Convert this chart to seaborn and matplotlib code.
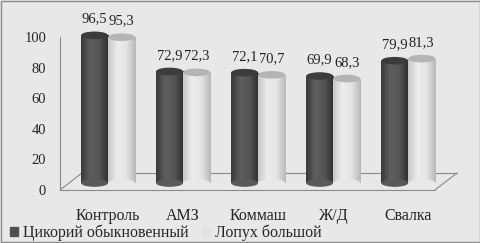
import numpy as np
import pandas as pd
import matplotlib
matplotlib.use("Agg")
import matplotlib.pyplot as plt
import seaborn as sns
from matplotlib.patches import Ellipse
from matplotlib.colors import LinearSegmentedColormap
from matplotlib.transforms import ScaledTranslation

sites = ["Контроль", "АМЗ", "Коммаш", "Ж/Д", "Свалка"]
chicory = [96.5, 72.9, 72.1, 69.9, 79.9]
burdock = [95.3, 72.3, 70.7, 68.3, 81.3]
series = ["Цикорий обыкновенный", "Лопух большой"]

df = pd.DataFrame({
    "site": sites * 2,
    "value": chicory + burdock,
    "species": [series[0]] * len(sites) + [series[1]] * len(sites),
})

sns.set_style("white")
plt.rcParams["font.family"] = ["Liberation Serif", "DejaVu Serif"]

bg = "#e8e8e8"
fig = plt.figure(figsize=(4.81, 2.43), dpi=100, facecolor=bg)
# bars stand on the middle of the "3D" floor, 7px above the front edge
ax = fig.add_axes([60 / 481, 60 / 243, 385 / 481, 153 / 243])
ax.set_facecolor("none")

colors = {series[0]: "#505050", series[1]: "#e2e2e2"}
sns.barplot(data=df, x="site", y="value", hue="species", palette=colors,
            width=0.72, gap=0, ax=ax, saturation=1, legend=False)

ax.set_xlim(-0.64, 4.49)
ax.set_ylim(0, 100)
ax.set_yticks([0, 20, 40, 60, 80, 100])
ax.set_xlabel("")
ax.set_ylabel("")
ax.tick_params(axis="y", length=0, pad=10, labelsize=10.5)
ax.tick_params(axis="x", length=0, pad=18, labelsize=11.5)
for lab in ax.get_yticklabels():
    lab.set_transform(lab.get_transform() + ScaledTranslation(0, -7 / 100, fig.dpi_scale_trans))
for s in ax.spines.values():
    s.set_visible(False)

# cylinder shading
cmaps = {
    "#505050": LinearSegmentedColormap.from_list("d", ["#3a3a3a", "#5e5e5e", "#545454", "#2e2e2e"]),
    "#e2e2e2": LinearSegmentedColormap.from_list("l", ["#c8c8c8", "#ececec", "#e4e4e4", "#b8b8b8"]),
}
caps = {"#505050": "#3c3c3c", "#e2e2e2": "#b4b4b4"}
grad = np.linspace(0, 1, 64).reshape(1, -1)
bars = [p for p in ax.patches if p.get_height() > 0]
for p in bars:
    x0, w, h = p.get_x(), p.get_width(), p.get_height()
    key = matplotlib.colors.to_hex(p.get_facecolor())
    cm = cmaps.get(key, cmaps["#505050"])
    im = ax.imshow(grad, extent=[x0, x0 + w, 0, h], aspect="auto", cmap=cm, zorder=2)
    im.set_clip_path(p)
    p.set_edgecolor("none")
    ax.add_patch(Ellipse((x0 + w / 2, 0), w, 5, facecolor=cm(0.5), edgecolor="none",
                         zorder=2, clip_on=False))
    ax.add_patch(Ellipse((x0 + w / 2, h), w, 5, facecolor=caps.get(key, "#3c3c3c"),
                         edgecolor="none", zorder=3))

for cont, vals in zip(ax.containers, [chicory, burdock]):
    ax.bar_label(cont, labels=[f"{v:.1f}".replace(".", ",") for v in vals],
                 padding=7, fontsize=10.5, color="#222222")

# 3D-like floor and back axis
line_kw = dict(color="#8a8a8a", lw=0.8, transform=fig.transFigure, zorder=0)
fig.add_artist(plt.Line2D([60 / 481, 60 / 481], [1 - 190 / 243, 1 - 37 / 243], **line_kw))
fig.add_artist(plt.Line2D([60 / 481, 435 / 481], [1 - 190 / 243, 1 - 190 / 243], **line_kw))
fig.add_artist(plt.Line2D([60 / 481, 82 / 481], [1 - 190 / 243, 1 - 173 / 243], **line_kw))
fig.add_artist(plt.Line2D([82 / 481, 457 / 481], [1 - 173 / 243, 1 - 173 / 243], **line_kw))
fig.add_artist(plt.Line2D([435 / 481, 457 / 481], [1 - 190 / 243, 1 - 173 / 243], **line_kw))

# border
fig.add_artist(plt.Rectangle((0.002, 0.004), 0.996, 0.992, fill=False, edgecolor="#8c8c8c",
                             lw=1, transform=fig.transFigure))

handles = [plt.Rectangle((0, 0), 1, 1, color=colors[s]) for s in series]
fig.legend(handles, series, loc="lower left", bbox_to_anchor=(0.0, -0.032), ncol=2,
           frameon=False, fontsize=11.5, handlelength=0.55, handleheight=0.55,
           handletextpad=0.3, columnspacing=0.8, borderaxespad=0.2)

fig.savefig("out.png", dpi=100, facecolor=bg)
